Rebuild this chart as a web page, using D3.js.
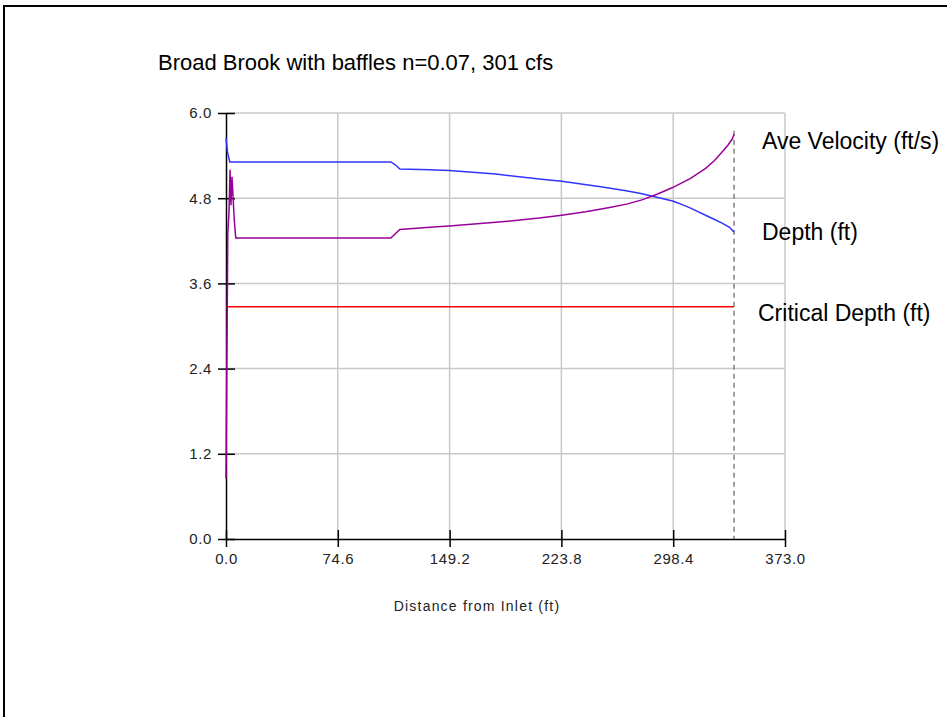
<!DOCTYPE html>
<html><head><meta charset="utf-8">
<script src="https://cdn.jsdelivr.net/npm/d3@7"></script>
<style>body{margin:0;background:#fff}</style>
</head><body>
<script>
const title = "Broad Brook with baffles n=0.07, 301 cfs";
const xTicks = [0.0, 74.6, 149.2, 223.8, 298.4, 373.0];
const yTicks = [0.0, 1.2, 2.4, 3.6, 4.8, 6.0];
const xLabel = "Distance from Inlet (ft)";
const outletX = 339;

const depthX = [0, 1, 2.5, 110, 113, 116, 136, 149, 180, 209, 224, 250, 266, 276, 286, 298, 302, 310, 320, 326, 331, 336, 339];
const depthY = [5.65, 5.45, 5.31, 5.31, 5.27, 5.21, 5.20, 5.19, 5.14, 5.07, 5.04, 4.96, 4.91, 4.87, 4.82, 4.76, 4.73, 4.66, 4.56, 4.50, 4.45, 4.39, 4.32];

const velX = [0, 0.6, 1.2, 2.0, 2.7, 3.3, 4.0, 5.5, 6.5, 110, 113, 116, 136, 149, 180, 209, 224, 240, 256, 268, 278, 288, 298, 310, 320, 326, 331, 335, 337.7, 339];
const velY = [0.85, 2.6, 4.3, 4.6, 5.2, 4.7, 5.1, 4.5, 4.24, 4.24, 4.30, 4.36, 4.39, 4.41, 4.46, 4.52, 4.56, 4.61, 4.67, 4.72, 4.78, 4.86, 4.95, 5.08, 5.22, 5.33, 5.45, 5.55, 5.63, 5.70];

const critX = [0.5, 339];
const critY = [3.27, 3.27];

const labels = [
  {text: "Ave Velocity (ft/s)", x: 762, y: 141},
  {text: "Depth (ft)", x: 762, y: 232},
  {text: "Critical Depth (ft)", x: 758, y: 313}
];

const W = 947, H = 717;
const FONT = "Liberation Sans, Arial, sans-serif";
const svg = d3.select("body").append("svg").attr("width", W).attr("height", H);

svg.append("rect").attr("x", 4).attr("y", 6).attr("width", W + 10).attr("height", H + 10)
  .attr("fill", "none").attr("stroke", "#000").attr("stroke-width", 2);

const x = d3.scaleLinear().domain([0, 373]).range([226, 785]);
const y = d3.scaleLinear().domain([0, 6]).range([539, 113]);

const g = svg.append("g");
g.selectAll(".vg").data(xTicks.slice(1)).enter().append("line")
  .attr("x1", d => x(d)).attr("x2", d => x(d)).attr("y1", y(6)).attr("y2", y(0))
  .attr("stroke", "#c8c8c8").attr("stroke-width", 1.5);
g.selectAll(".hg").data(yTicks.slice(1)).enter().append("line")
  .attr("x1", x(0)).attr("x2", x(373)).attr("y1", d => y(d)).attr("y2", d => y(d))
  .attr("stroke", "#c8c8c8").attr("stroke-width", 1.5);

g.append("line").attr("x1", x(outletX)).attr("x2", x(outletX)).attr("y1", y(5.75)).attr("y2", y(0))
  .attr("stroke", "#808080").attr("stroke-width", 1.5).attr("stroke-dasharray", "5,4");

const xAxis = d3.axisBottom(x).tickValues(xTicks).tickFormat(d3.format(".1f")).tickSizeInner(8).tickSizeOuter(0).tickPadding(5);
const yAxis = d3.axisLeft(y).tickValues(yTicks).tickFormat(d3.format(".1f")).tickSizeInner(8).tickSizeOuter(0).tickPadding(5);
const xg = svg.append("g").attr("transform", `translate(0,${y(0)})`).call(xAxis);
const yg = svg.append("g").attr("transform", `translate(${x(0)},0)`).call(yAxis);
[xg, yg].forEach(a => {
  a.select(".domain").attr("stroke", "#000").attr("stroke-width", 1.5);
  a.selectAll(".tick line").attr("stroke", "#000").attr("stroke-width", 1.5);
  a.selectAll(".tick text").attr("font-family", FONT).attr("font-size", 15)
    .attr("letter-spacing", 0.6).attr("fill", "#222");
});
xg.selectAll(".tick line").attr("y1", -9).attr("y2", 8);
yg.selectAll(".tick line").attr("x1", 9).attr("x2", -8);
xg.selectAll(".tick text").attr("dy", "0.8em");
yg.selectAll(".tick text").attr("x", -14);

const line = d3.line().x(d => x(d[0])).y(d => y(d[1]));
const series = [
  {xs: critX, ys: critY, color: "#ff0000"},
  {xs: depthX, ys: depthY, color: "#3333ff"},
  {xs: velX, ys: velY, color: "#990099"}
];
series.forEach(s => {
  svg.append("path").datum(s.xs.map((v, i) => [v, s.ys[i]]))
    .attr("d", line).attr("fill", "none").attr("stroke", s.color).attr("stroke-width", 1.5);
});

svg.append("text").attr("x", 158).attr("y", 70).text(title)
  .attr("font-family", FONT).attr("font-size", 22).attr("fill", "#000");

svg.append("text").attr("x", 477).attr("y", 611).attr("text-anchor", "middle").text(xLabel)
  .attr("font-family", FONT).attr("font-size", 14).attr("letter-spacing", 1.2).attr("fill", "#222");

svg.selectAll(".lbl").data(labels).enter().append("text")
  .attr("x", d => d.x).attr("y", d => d.y).attr("dy", "0.35em").text(d => d.text)
  .attr("font-family", FONT).attr("font-size", 23).attr("fill", "#000");
</script>
</body></html>
